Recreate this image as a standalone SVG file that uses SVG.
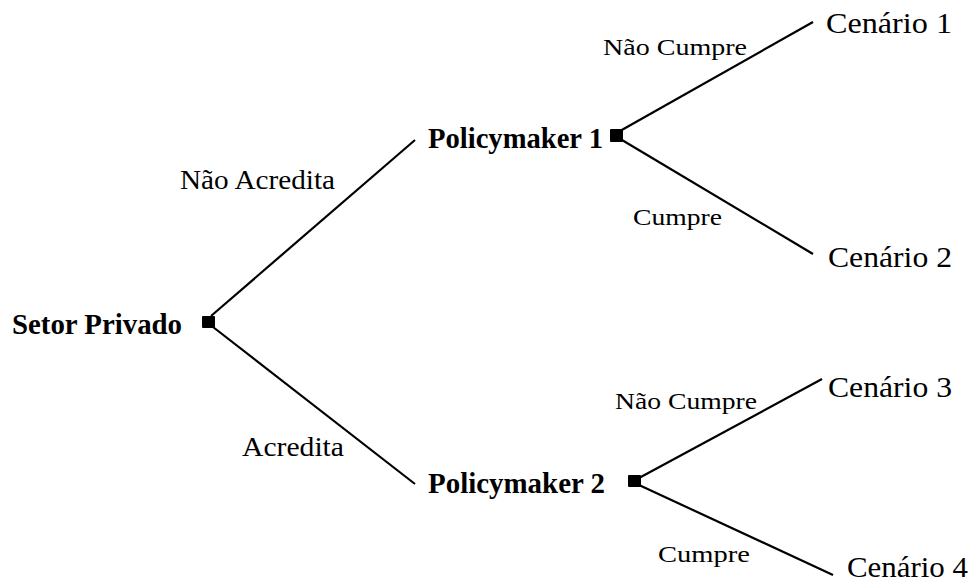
<svg xmlns="http://www.w3.org/2000/svg" width="973" height="587" viewBox="0 0 973 587">
<style>
text{font-family:"Liberation Serif","DejaVu Serif",serif;fill:#000}
.node{font-weight:bold;font-size:29px}
.leaf{font-size:29px}
.lbl{font-size:27px}
.small{font-size:23px}
.edge{stroke:#000;stroke-width:2.2;fill:none}
.dot{fill:#000}
</style>
<rect width="973" height="587" fill="#fff"/>
<g id="connectors">
<line class="edge" x1="211" y1="316" x2="415" y2="140"/>
<line class="edge" x1="213" y1="327" x2="415" y2="484"/>
<line class="edge" x1="620" y1="131" x2="813" y2="22"/>
<line class="edge" x1="622" y1="140" x2="813" y2="254"/>
<line class="edge" x1="639" y1="478" x2="822" y2="379"/>
<line class="edge" x1="639" y1="485" x2="833" y2="575"/>
<text class="lbl" x="180" y="189" textLength="155" lengthAdjust="spacingAndGlyphs">Não Acredita</text>
<text class="lbl" x="242" y="456" textLength="102" lengthAdjust="spacingAndGlyphs">Acredita</text>
<text class="small" x="603" y="55" textLength="144" lengthAdjust="spacingAndGlyphs">Não Cumpre</text>
<text class="small" x="633" y="225" textLength="89" lengthAdjust="spacingAndGlyphs">Cumpre</text>
<text class="small" x="615" y="409" textLength="142" lengthAdjust="spacingAndGlyphs">Não Cumpre</text>
<text class="small" x="658" y="562" textLength="92" lengthAdjust="spacingAndGlyphs">Cumpre</text>
</g>
<g id="setor-privado">
<text class="node" x="12" y="334" textLength="170" lengthAdjust="spacingAndGlyphs">Setor Privado</text>
<rect class="dot" x="202" y="316" width="13" height="12" rx="1"/>
</g>
<g id="policymaker-1">
<text class="node" x="428" y="148" textLength="175" lengthAdjust="spacingAndGlyphs">Policymaker 1</text>
<rect class="dot" x="610" y="129" width="13" height="13" rx="1"/>
</g>
<g id="policymaker-2">
<text class="node" x="428" y="493" textLength="177" lengthAdjust="spacingAndGlyphs">Policymaker 2</text>
<rect class="dot" x="628" y="475" width="13" height="12" rx="1"/>
</g>
<g id="cenario-1"><text class="leaf" x="826" y="33" textLength="126" lengthAdjust="spacingAndGlyphs">Cenário 1</text></g>
<g id="cenario-2"><text class="leaf" x="828" y="267" textLength="124" lengthAdjust="spacingAndGlyphs">Cenário 2</text></g>
<g id="cenario-3"><text class="leaf" x="828" y="397" textLength="124" lengthAdjust="spacingAndGlyphs">Cenário 3</text></g>
<g id="cenario-4"><text class="leaf" x="847" y="577" textLength="121" lengthAdjust="spacingAndGlyphs">Cenário 4</text></g>
</svg>
